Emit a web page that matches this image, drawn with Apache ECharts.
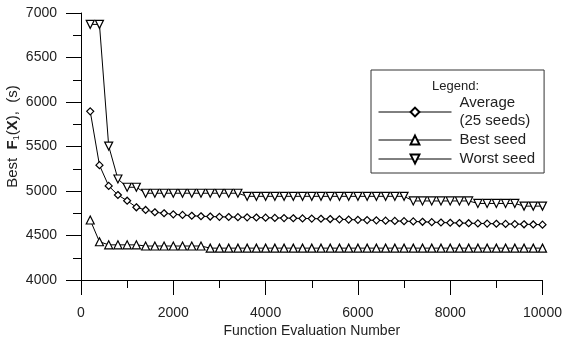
<!DOCTYPE html>
<html>
<head>
<meta charset="utf-8">
<script src="https://cdn.jsdelivr.net/npm/echarts@6/dist/echarts.min.js"></script>
<style>html,body{margin:0;padding:0;background:#fff}#c{width:567px;height:338px}</style>
</head>
<body>
<div id="c"></div>
<script>
const evals = [200,400,600,800,1000,1200,1400,1600,1800,2000,2200,2400,2600,2800,3000,3200,3400,3600,3800,4000,4200,4400,4600,4800,5000,5200,5400,5600,5800,6000,6200,6400,6600,6800,7000,7200,7400,7600,7800,8000,8200,8400,8600,8800,9000,9200,9400,9600,9800,10000];
const average = [5895,5290,5057,4955,4891,4817,4787,4761,4750,4738,4731,4722,4716,4713,4710,4708,4706,4704,4702,4700,4698,4696,4694,4692,4690,4688,4685,4682,4679,4676,4673,4670,4667,4664,4661,4658,4654,4650,4646,4643,4640,4638,4636,4634,4632,4630,4628,4626,4624,4622];
const bestSeed = [4674,4430,4395,4395,4395,4395,4382,4382,4382,4382,4382,4382,4382,4358,4358,4358,4358,4358,4358,4358,4358,4358,4358,4358,4358,4358,4358,4358,4358,4358,4358,4358,4358,4358,4358,4358,4358,4358,4358,4358,4358,4358,4358,4358,4358,4358,4358,4358,4358,4358];
const worstSeed = [6872,6872,5505,5135,5042,5042,4975,4975,4975,4975,4975,4975,4975,4975,4975,4975,4975,4940,4940,4940,4940,4940,4940,4940,4940,4940,4940,4940,4940,4940,4940,4940,4940,4940,4940,4888,4888,4888,4888,4888,4888,4888,4860,4860,4860,4860,4860,4830,4830,4830];
const seriesNames = ['Average\n(25 seeds)','Best seed','Worst seed'];
const xTicks = {min:0, max:10000, interval:2000};
const yTicks = {min:4000, max:7000, interval:500};

const pair = arr => evals.map((x,i)=>[x,arr[i]]);
const font = 'Liberation Sans, Arial, sans-serif';
const mk = (name, data, symbol, size, rot) => ({
  name, type:'line', data: pair(data), symbol, symbolSize:size, symbolRotate:rot||0,
  showSymbol:true, animation:false,
  lineStyle:{color:'#000', width:1},
  itemStyle:{color:'#fff', borderColor:'#000', borderWidth:1.2}
});
const tickStyle = {color:'#000', width:1};
const chart = echarts.init(document.getElementById('c'), null, {renderer:'canvas'});
chart.setOption({
  backgroundColor:'#fff',
  animation:false,
  grid:{left:81, right:24.5, top:13, bottom:58, containLabel:false, outerBoundsMode:'none'},
  xAxis:{
    type:'value', min:xTicks.min, max:xTicks.max, interval:xTicks.interval,
    name:'Function Evaluation Number', nameLocation:'middle', nameGap:44, nameMoveOverlap:false,
    nameTextStyle:{fontFamily:font, fontSize:14, color:'#222'},
    axisLine:{show:true, onZero:false, lineStyle:{color:'#000', width:1}},
    axisTick:{show:true, inside:false, length:15, lineStyle:tickStyle},
    minorTick:{show:true, splitNumber:2, length:8, lineStyle:tickStyle},
    axisLabel:{fontFamily:font, fontSize:14, color:'#222', margin:26, formatter:v=>String(v)},
    splitLine:{show:false}
  },
  yAxis:{
    type:'value', min:yTicks.min, max:yTicks.max, interval:yTicks.interval,
    name:'{n|Best  }{b|F}{s|1}{n|(}{b|X}{n|),  (s)}', nameLocation:'middle', nameGap:60, nameMoveOverlap:false,
    nameTextStyle:{fontFamily:font, fontSize:15, color:'#222', padding:[0,0,0,20],
      rich:{
        n:{fontFamily:font, fontSize:15, color:'#222'},
        b:{fontFamily:font, fontSize:15, fontWeight:'bold', color:'#222'},
        s:{fontFamily:font, fontSize:9, color:'#222', verticalAlign:'bottom', padding:[7,0,0,0]}
      }},
    axisLine:{show:true, onZero:false, lineStyle:{color:'#000', width:1}},
    axisTick:{show:true, inside:false, length:15, lineStyle:tickStyle},
    minorTick:{show:true, splitNumber:2, length:8, lineStyle:tickStyle},
    axisLabel:{fontFamily:font, fontSize:14, color:'#222', margin:24, formatter:v=>String(v)},
    splitLine:{show:false}
  },
  legend:{
    orient:'vertical', left:371, top:70,
    data:seriesNames,
    itemWidth:73, itemHeight:11, itemGap:1,
    padding:[24,9,5,7],
    borderColor:'#333', borderWidth:1, backgroundColor:'#fff',
    lineStyle:{width:1, color:'#000'},
    textStyle:{fontFamily:font, fontSize:15, color:'#222', lineHeight:18, padding:[0,0,0,3]}
  },
  graphic:[{type:'text', z:100, zlevel:1, left:432, top:80, style:{text:'Legend:', font:'13px '+font, fill:'#222'}}],
  series:[
    mk(seriesNames[0], average, 'diamond', 7),
    mk(seriesNames[1], bestSeed, 'triangle', 8),
    mk(seriesNames[2], worstSeed, 'triangle', 8, 180)
  ]
});
</script>
</body>
</html>
